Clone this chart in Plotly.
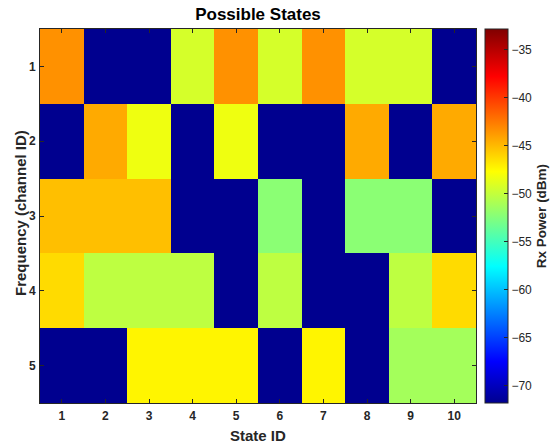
import plotly.graph_objects as go

state_ids = [1, 2, 3, 4, 5, 6, 7, 8, 9, 10]
channel_ids = [1, 2, 3, 4, 5]
NS = -71.8  # no-signal level
rx_ch1 = [-43.4, NS, NS, -49.3, -43.4, -49.3, -43.4, -49.3, -49.3, NS]
rx_ch2 = [NS, -44.4, -48.3, NS, -48.3, NS, NS, -44.4, NS, -44.4]
rx_ch3 = [-45.2, -45.2, -45.2, NS, NS, -52.2, NS, -52.2, -52.2, NS]
rx_ch4 = [-46.3, -50.2, -50.2, -50.2, NS, -50.2, NS, NS, -50.2, -46.3]
rx_ch5 = [NS, NS, -47.3, -47.3, -47.3, NS, -47.3, NS, -51.2, -51.2]
cbar_ticks = [-70, -65, -60, -55, -50, -45, -40, -35]

z = [rx_ch1, rx_ch2, rx_ch3, rx_ch4, rx_ch5]

jet = [
    [0.0, "rgb(0,0,143)"],
    [7 / 63, "rgb(0,0,255)"],
    [23 / 63, "rgb(0,255,255)"],
    [39 / 63, "rgb(255,255,0)"],
    [55 / 63, "rgb(255,0,0)"],
    [1.0, "rgb(128,0,0)"],
]

FONT = "Liberation Sans"
DARK = "#262626"

L, R, T, B = 40, 476, 28.5, 403.5
W, H = 553, 445
PW, PH = R - L, B - T

fig = go.Figure(
    go.Heatmap(
        x=state_ids,
        y=channel_ids,
        z=z,
        colorscale=jet,
        zmin=-71.8,
        zmax=-32.84,
        colorbar=dict(
            x=1 + 9.3 / PW,
            xanchor="left",
            xref="paper",
            y=0.5,
            yanchor="middle",
            len=1,
            lenmode="fraction",
            thickness=23,
            xpad=0,
            ypad=0,
            outlinewidth=1,
            outlinecolor=DARK,
            ticks="inside",
            ticklen=4,
            tickcolor=DARK,
            tickvals=cbar_ticks,
            tickfont=dict(family=FONT, size=12, color=DARK),
            title=dict(
                text="<b>Rx Power (dBm)</b>",
                side="right",
                font=dict(family=FONT, size=13.5, color=DARK),
            ),
        ),
        hoverongaps=False,
    )
)

fig.update_layout(
    width=W,
    height=H,
    margin=dict(l=L, r=W - R, t=T, b=H - B, autoexpand=False),
    paper_bgcolor="white",
    plot_bgcolor="white",
    font=dict(family=FONT, color=DARK),
    title=dict(
        text="<b>Possible States</b>",
        x=258 / W,
        xanchor="center",
        y=1 - 14 / H,
        yanchor="middle",
        font=dict(family=FONT, size=17, color="black"),
    ),
    annotations=[
        dict(
            text="<b>State ID</b>",
            xref="paper", yref="paper",
            x=0.5, y=-(436 - B) / PH,
            xanchor="center", yanchor="middle",
            showarrow=False,
            font=dict(family=FONT, size=15, color=DARK),
        ),
        dict(
            text="<b>Frequency (channel ID)</b>",
            xref="paper", yref="paper",
            x=-(L - 20) / PW, y=(B - 213) / PH,
            xanchor="center", yanchor="middle",
            textangle=-90,
            showarrow=False,
            font=dict(family=FONT, size=15, color=DARK),
        ),
    ],
)

fig.update_xaxes(
    tickvals=state_ids,
    ticktext=[f"<b>{v}</b>" for v in state_ids],
    range=[0.5, 10.5],
    ticks="inside",
    ticklen=4,
    tickcolor=DARK,
    showline=True,
    linecolor=DARK,
    linewidth=1,
    mirror="ticks",
    showgrid=False,
    zeroline=False,
    ticklabelstandoff=2,
    tickfont=dict(family=FONT, size=12, color=DARK),
)
fig.update_yaxes(
    tickvals=channel_ids,
    ticktext=[f"<b>{v}</b>" for v in channel_ids],
    range=[5.5, 0.5],
    ticks="inside",
    ticklen=4,
    tickcolor=DARK,
    showline=True,
    linecolor=DARK,
    linewidth=1,
    mirror="ticks",
    showgrid=False,
    zeroline=False,
    ticklabelstandoff=1,
    tickfont=dict(family=FONT, size=12, color=DARK),
)

fig.write_html("out.html")
